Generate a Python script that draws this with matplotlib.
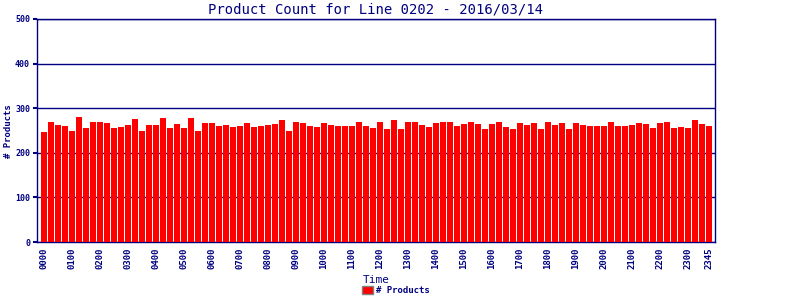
import numpy as np
import matplotlib
matplotlib.use("Agg")
import matplotlib.pyplot as plt

# product counts per 15 minute slot
counts = [246, 268, 262, 259, 250, 280, 255, 268, 268, 266, 255, 257, 262, 275, 250, 262,
          262, 277, 255, 264, 255, 277, 248, 266, 266, 259, 262, 257, 259, 266, 257, 259,
          262, 264, 273, 250, 268, 266, 259, 257, 266, 262, 259, 259, 259, 268, 259, 255,
          268, 253, 273, 253, 268, 268, 262, 257, 266, 268, 268, 259, 264, 268, 264,
          253, 264, 268, 257, 253, 266, 262, 266, 253, 268, 262, 266, 253, 266, 262, 259,
          259, 259, 268, 259, 259, 262, 266, 264, 255, 266, 268, 255, 257, 255, 273, 264, 259]
slots = ["%02d%02d" % (h, m) for h in range(24) for m in (0, 15, 30, 45)]
tick_labels = [s for s in slots if s.endswith("00")] + ["2345"]
y_ticks = [0, 100, 200, 300, 400, 500]

navy = "#000080"
mono = "DejaVu Sans Mono"

fig = plt.figure(figsize=(8, 3), dpi=100)
ax = fig.add_axes([0.04625, 0.1933, 0.8475, 0.7434])

x = np.arange(len(counts))
ax.bar(x, counts, width=0.86, color="#ff0000", zorder=3, label="# Products")

ax.set_ylim(0, 500)
ax.set_xlim(-0.95, len(counts) - 0.15)
ax.set_yticks(y_ticks)
ax.set_yticklabels([str(v) for v in y_ticks], family=mono, fontsize=6,
                   fontweight="bold", color=navy)
tick_pos = [slots.index(t) for t in tick_labels]
ax.set_xticks(tick_pos)
ax.set_xticklabels(tick_labels, rotation=90, family=mono, fontsize=6.5,
                   fontweight="bold", color=navy)
ax.tick_params(axis="x", length=0, pad=4)
ax.tick_params(axis="y", length=3, width=1.5, color=navy, pad=2)

ax.grid(axis="y", color=navy, linewidth=1, zorder=1)
for sp in ax.spines.values():
    sp.set_color(navy)
    sp.set_linewidth(1)

ax.set_title("Product Count for Line 0202 - 2016/03/14", family=mono,
             fontsize=10, color=navy, pad=4)
ax.set_xlabel("Time", family=mono, fontsize=8, color=navy, labelpad=4)
# y label placed by hand so it stays inside the narrow left margin
fig.text(9 / 800, 1 - 131 / 300, "# Products", rotation=90, ha="center", va="center",
         family=mono, fontsize=6.5, fontweight="bold", color=navy)

leg = fig.legend(loc="lower center", bbox_to_anchor=(0.495, -0.01), frameon=False,
                 prop={"family": mono, "size": 6.5, "weight": "bold"},
                 handlelength=1.2, handleheight=0.9, handletextpad=0.4)
for t in leg.get_texts():
    t.set_color(navy)
for h in leg.legend_handles:
    h.set_edgecolor("#808080")
    h.set_linewidth(1)

fig.savefig("out.png", dpi=100)
